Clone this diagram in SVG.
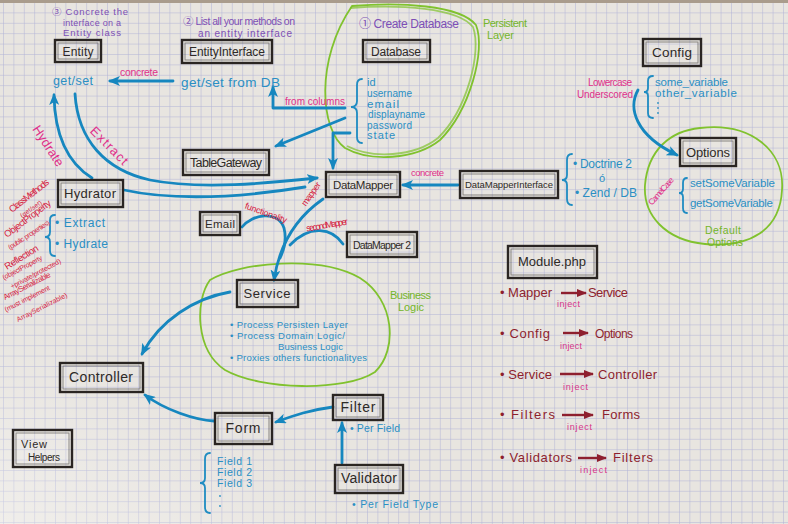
<svg xmlns="http://www.w3.org/2000/svg" width="788" height="524" viewBox="0 0 788 524">
  <defs>
    <pattern id="grid" width="10.4" height="10.4" patternUnits="userSpaceOnUse" x="3" y="2">
      <path d="M10.4 0 L0 0 L0 10.4" fill="none" stroke="#b0b2d6" stroke-width="1"/>
    </pattern>
    <linearGradient id="light" x1="0" y1="1" x2="0.6" y2="0.3">
      <stop offset="0" stop-color="#ffffff" stop-opacity="0.35"/>
      <stop offset="0.35" stop-color="#ffffff" stop-opacity="0"/>
    </linearGradient>
    <marker id="ah" viewBox="0 0 12 10" refX="10" refY="5" markerWidth="12" markerHeight="10" markerUnits="userSpaceOnUse" orient="auto">
      <path d="M0 0 L12 5 L0 10 L3 5 Z" fill="#1687bf"/>
    </marker>
    <marker id="ahr" viewBox="0 0 10 8" refX="9" refY="4" markerWidth="10" markerHeight="8" markerUnits="userSpaceOnUse" orient="auto">
      <path d="M0 0 L10 4 L0 8 Z" fill="#8e1f2e"/>
    </marker>
    <style>
      text { font-family: "Liberation Sans", "Noto Sans CJK JP", sans-serif; }
      .box { fill: none; stroke: #2a2522; stroke-width: 2.4; }
      .boxi { fill: none; stroke: #2a2522; stroke-width: 0.9; opacity: 0.55; }
      .lbl { fill: #2e2a27; text-anchor: middle; }
      .pur { fill: #7d4fb5; }
      .blu { fill: #2a8fc4; }
      .pnk { fill: #e0308a; }
      .red { fill: #d6203e; }
      .grn { fill: #74b52a; }
      .mod { fill: #8e1f2e; }
      .inj { fill: #d8358a; }
      .arr { fill: none; stroke: #1687bf; stroke-width: 2.8; stroke-linecap: round; stroke-linejoin: round; }
      .marr { fill: none; stroke: #8e1f2e; stroke-width: 2.4; }
      .loop { fill: none; stroke: #80c22e; stroke-width: 1.8; }
      .brace { fill: none; stroke: #1f8cc2; stroke-width: 1.8; stroke-linecap: round; }
    </style>
  </defs>

  <!-- paper -->
  <rect width="788" height="524" fill="#e8e5e0"/>
  <rect width="788" height="524" fill="url(#grid)"/>
  <rect width="788" height="524" fill="url(#light)"/>
  <rect width="788" height="3" fill="#a99c8c"/>

  <!-- layer outlines -->
  <g id="layers">
    <path class="loop" d="M352 6 C400 2 460 5 476 25 C486 50 470 110 440 140 C415 160 370 162 345 148 C320 130 315 60 352 6 Z"/>
    <path class="loop" d="M350 8 C400 4 458 8 473 27 C482 52 467 110 438 138 C414 157 372 159 347 146" opacity="0.7"/>
    <path class="loop" d="M210 280 C240 262 320 255 360 278 C395 300 398 350 375 372 C345 392 260 390 225 370 C195 350 195 300 210 280 Z"/>
    <path class="loop" d="M700 128 C750 122 785 150 782 190 C780 230 750 248 705 244 C665 240 643 215 645 185 C648 150 670 131 700 128 Z"/>
    <text class="grn" x="483" y="27" style="font-size:11px" textLength="44">Persistent</text>
    <text class="grn" x="487" y="39" style="font-size:11px" textLength="27">Layer</text>
    <text class="grn" x="390" y="299" style="font-size:11px" textLength="41">Business</text>
    <text class="grn" x="398" y="311" style="font-size:11px" textLength="26">Logic</text>
    <text class="grn" x="705" y="234" style="font-size:10.5px" textLength="36">Default</text>
    <text class="grn" x="707" y="246" style="font-size:10.5px" textLength="36">Options</text>
  </g>

  <!-- step notes -->
  <g id="steps">
    <text class="pur" x="52" y="15" style="font-size:9.5px" textLength="76">③ Concrete the</text>
    <text class="pur" x="63" y="25.5" style="font-size:9px" textLength="58">interface on a</text>
    <text class="pur" x="63" y="36" style="font-size:9.5px" textLength="58">Entity class</text>
    <text class="pur" x="183" y="25" style="font-size:10.5px" textLength="112">② List all your methods on</text>
    <text class="pur" x="198" y="37" style="font-size:10px" textLength="94">an entity interface</text>
    <text class="pur" x="359" y="28" style="font-size:12px" textLength="100">① Create Database</text>
  </g>

  <!-- connectors -->
  <g id="connectors">
    <path class="arr" d="M173 81 L110 81" marker-end="url(#ah)"/>
    <path class="arr" d="M345 108 L273 108 L273 87" marker-end="url(#ah)"/>
    <path class="arr" d="M345 118 L276 146" marker-end="url(#ah)"/>
    <path class="arr" d="M350 133 L333 133 L333 168" marker-end="url(#ah)"/>
    <path class="arr" d="M458 185 L403 185" marker-end="url(#ah)"/>
    <path class="arr" d="M638 90 C628 108 635 135 677 155" marker-end="url(#ah)"/>
    <path class="arr" d="M75 94 C78 140 105 170 150 180 C200 190 270 183 317 178" marker-end="url(#ah)"/>
    <path class="arr" d="M92 178 Q55 155 54 95" marker-end="url(#ah)"/>
    <path class="arr" d="M124 190 C160 198 220 201 305 187"/>
    <path class="arr" d="M242 227 C252 214 278 210 284 228 C287 240 284 250 280 258"/>
    <path class="arr" d="M323 199 C300 215 280 240 274 280" marker-end="url(#ah)"/>
    <path class="arr" d="M343 244 C332 228 310 224 290 245"/>
    <path class="arr" d="M230 292 C195 298 160 320 142 354" marker-end="url(#ah)"/>
    <path class="arr" d="M214 421 C195 420 165 410 145 395" marker-end="url(#ah)"/>
    <path class="arr" d="M333 407 C310 410 295 415 276 422" marker-end="url(#ah)"/>
    <path class="arr" d="M342 463 L342 423" marker-end="url(#ah)"/>
  </g>

  <!-- connector labels -->
  <g id="connector-labels">
    <text class="pnk" x="120" y="76" style="font-size:10.5px" textLength="38">concrete</text>
    <text class="pnk" x="285" y="105" style="font-size:10px" textLength="60">from columns</text>
    <text class="pnk" x="411" y="176" style="font-size:9.5px" textLength="33">concrete</text>
    <text class="pnk" x="588" y="86" style="font-size:10px" textLength="44">Lowercase</text>
    <text class="pnk" x="577" y="98" style="font-size:10px" textLength="56">Underscored</text>
    <text class="pnk" x="661" y="194" text-anchor="middle" style="font-size:8.5px" textLength="34" transform="rotate(-49 661 191)">CamelCase</text>
    <text class="pnk" x="48" y="150" text-anchor="middle" style="font-size:13px" textLength="46" transform="rotate(57 48 146)">Hydrate</text>
    <text class="pnk" x="109" y="150" text-anchor="middle" style="font-size:13px" textLength="48" transform="rotate(45 109 146)">Extract</text>
    <text class="red" x="266" y="216" text-anchor="middle" style="font-size:9px" textLength="44" transform="rotate(20 266 213)">functionality</text>
    <text class="red" x="311" y="197" text-anchor="middle" style="font-size:9px" textLength="27" transform="rotate(-55 311 194)">mapper</text>
    <text class="red" x="327" y="228" text-anchor="middle" style="font-size:9px" textLength="42" transform="rotate(-10 327 225)">secondMapper</text>
  </g>

  <!-- nodes -->
  <g id="entity">
    <rect class="box" x="55" y="40" width="46" height="22"/>
    <rect class="boxi" x="58" y="43" width="40" height="16"/>
    <text class="lbl" x="78" y="56" style="font-size:12px" textLength="31">Entity</text>
    <text class="blu" x="53" y="85" style="font-size:12.5px" textLength="40">get/set</text>
  </g>

  <g id="entity-interface">
    <rect class="box" x="182" y="40" width="90" height="23"/>
    <rect class="boxi" x="185" y="43" width="84" height="17"/>
    <text class="lbl" x="227" y="56" style="font-size:12px" textLength="76">EntityInterface</text>
    <text class="blu" x="181" y="87" style="font-size:13.5px" textLength="99">get/set from DB</text>
  </g>

  <g id="database">
    <rect class="box" x="363" y="40" width="67" height="22"/>
    <rect class="boxi" x="366" y="43" width="61" height="16"/>
    <text class="lbl" x="396" y="56" style="font-size:12px" textLength="50">Database</text>
    <path class="brace" d="M362 79 Q357 79 357 85 L357 101 Q357 107 351 107 Q357 107 357 113 L357 137 Q357 143 362 143"/>
    <text class="blu" x="367" y="86" style="font-size:11px">id</text>
    <text class="blu" x="367" y="97" style="font-size:10px" textLength="45">username</text>
    <text class="blu" x="367" y="107.5" style="font-size:11.5px" textLength="32">email</text>
    <text class="blu" x="368" y="118" style="font-size:10px" textLength="57">displayname</text>
    <text class="blu" x="367" y="128.5" style="font-size:10px" textLength="45">password</text>
    <text class="blu" x="367" y="139" style="font-size:11px" textLength="28">state</text>
  </g>

  <g id="config">
    <rect class="box" x="643" y="39" width="58" height="27"/>
    <rect class="boxi" x="646" y="42" width="52" height="21"/>
    <text class="lbl" x="672" y="57" style="font-size:13.5px" textLength="40">Config</text>
    <path class="brace" d="M653 76 Q648 76 648 81 L648 88 Q648 92 644 92 Q648 92 648 96 L648 113 Q648 118 653 118"/>
    <text class="blu" x="655" y="86" style="font-size:11.5px" textLength="73">some_variable</text>
    <text class="blu" x="655" y="97" style="font-size:11.5px" textLength="82">other_variable</text>
    <circle cx="658" cy="103" r="0.9" fill="#2a8fc4"/>
    <circle cx="658" cy="108" r="0.9" fill="#2a8fc4"/>
    <circle cx="658" cy="113" r="0.9" fill="#2a8fc4"/>
  </g>

  <g id="table-gateway">
    <rect class="box" x="183" y="150" width="86" height="25"/>
    <rect class="boxi" x="186" y="153" width="80" height="19"/>
    <text class="lbl" x="226" y="167" style="font-size:12.5px" textLength="72">TableGateway</text>
  </g>

  <g id="data-mapper">
    <rect class="box" x="326" y="172" width="74" height="25"/>
    <rect class="boxi" x="329" y="175" width="68" height="19"/>
    <text class="lbl" x="363" y="189" style="font-size:11.5px" textLength="60">DataMapper</text>
  </g>

  <g id="data-mapper-interface">
    <rect class="box" x="460" y="171" width="98" height="27"/>
    <rect class="boxi" x="463" y="174" width="92" height="21"/>
    <text class="lbl" x="509" y="188" style="font-size:9.5px" textLength="88">DataMapperInterface</text>
    <path class="brace" d="M572 154 Q567 154 567 160 L567 175 Q567 180 562 180 Q567 180 567 185 L567 199 Q567 205 572 205"/>
    <text class="blu" x="573" y="168" style="font-size:12px" textLength="59">• Doctrine 2</text>
    <text class="blu" x="599" y="182" style="font-size:11px">ó</text>
    <text class="blu" x="575" y="197" style="font-size:12px" textLength="62">• Zend / DB</text>
  </g>

  <g id="options">
    <rect class="box" x="680" y="138" width="56" height="28"/>
    <rect class="boxi" x="683" y="141" width="50" height="22"/>
    <text class="lbl" x="708" y="157" style="font-size:13px" textLength="44">Options</text>
    <path class="brace" d="M687 178 Q683 178 683 183 L683 189 Q683 193 679 193 Q683 193 683 197 L683 208 Q683 213 687 213"/>
    <text class="blu" x="690" y="187" style="font-size:11.5px" textLength="85">setSomeVariable</text>
    <text class="blu" x="690" y="207" style="font-size:11.5px" textLength="83">getSomeVariable</text>
  </g>

  <g id="hydrator">
    <rect class="box" x="58" y="180" width="65" height="27"/>
    <rect class="boxi" x="61" y="183" width="59" height="21"/>
    <text class="lbl" x="90" y="198" style="font-size:13px" textLength="52">Hydrator</text>
    <path class="brace" d="M55 215 Q50 215 50 220 L50 232 Q50 237 45 237 Q50 237 50 242 L50 251 Q50 256 55 256"/>
    <text class="blu" x="55" y="227" style="font-size:12px" textLength="50">• Extract</text>
    <text class="blu" x="55" y="248" style="font-size:12px" textLength="53">• Hydrate</text>
  </g>

  <g id="hydrator-strategies" class="red">
    <text x="12" y="213" style="font-size:9.5px" textLength="48" transform="rotate(-38 12 213)">ClassMethods</text>
    <text x="22" y="218" style="font-size:6.5px" textLength="25" transform="rotate(-35 22 218)">(get/set)</text>
    <text x="7" y="238" style="font-size:9.5px" textLength="56" transform="rotate(-37 7 238)">ObjectProperty</text>
    <text x="10" y="250" style="font-size:7px" textLength="48" transform="rotate(-33 10 250)">(public properties)</text>
    <text x="7" y="270" style="font-size:9.5px" textLength="38" transform="rotate(-32 7 270)">Reflection</text>
    <text x="4" y="280" style="font-size:7px" textLength="44" transform="rotate(-28 4 280)">(objectProperty</text>
    <text x="12" y="289" style="font-size:7px" textLength="56" transform="rotate(-28 12 289)">+private/protected)</text>
    <text x="5" y="300" style="font-size:8px" textLength="52" transform="rotate(-27 5 300)">ArraySerializable</text>
    <text x="6" y="312" style="font-size:7px" textLength="50" transform="rotate(-27 6 312)">(must implement</text>
    <text x="18" y="322" style="font-size:7px" textLength="56" transform="rotate(-27 18 322)">ArraySerializable)</text>
  </g>

  <g id="email">
    <rect class="box" x="200" y="212" width="40" height="23"/>
    <rect class="boxi" x="203" y="215" width="34" height="17"/>
    <text class="lbl" x="220" y="228" style="font-size:11.5px" textLength="30">Email</text>
  </g>

  <g id="data-mapper-2">
    <rect class="box" x="347" y="232" width="70" height="25"/>
    <rect class="boxi" x="350" y="235" width="64" height="19"/>
    <text class="lbl" x="382" y="249" style="font-size:10.5px" textLength="58">DataMapper 2</text>
  </g>

  <g id="service">
    <rect class="box" x="237" y="280" width="61" height="27"/>
    <rect class="boxi" x="240" y="283" width="55" height="21"/>
    <text class="lbl" x="267" y="298" style="font-size:13px" textLength="47">Service</text>
    <text class="blu" x="230" y="328" style="font-size:9.5px" textLength="118">• Process Persisten Layer</text>
    <text class="blu" x="230" y="339" style="font-size:9.5px" textLength="115">• Process Domain Logic/</text>
    <text class="blu" x="278" y="350" style="font-size:9.5px" textLength="65">Business Logic</text>
    <text class="blu" x="230" y="361" style="font-size:9.5px" textLength="137">• Proxies others functionalityes</text>
  </g>

  <g id="module-php">
    <rect class="box" x="508" y="246" width="89" height="32"/>
    <rect class="boxi" x="511" y="249" width="83" height="26"/>
    <text class="lbl" x="552" y="266" style="font-size:13px" textLength="68">Module.php</text>
  </g>

  <g id="module-injections" style="font-size:13px">
    <text class="mod" x="500" y="297" textLength="52">• Mapper</text>
    <path class="marr" d="M561 293 L586 293" marker-end="url(#ahr)"/>
    <text class="mod" x="588" y="297" textLength="40">Service</text>
    <text class="inj" x="557" y="307" style="font-size:9px" textLength="23">inject</text>

    <text class="mod" x="500" y="338" textLength="50">• Config</text>
    <path class="marr" d="M563 333 L588 333" marker-end="url(#ahr)"/>
    <text class="mod" x="595" y="338" style="font-size:12px" textLength="38">Options</text>
    <text class="inj" x="560" y="349" style="font-size:9px" textLength="22">inject</text>

    <text class="mod" x="500" y="379" textLength="52">• Service</text>
    <path class="marr" d="M560 374 L593 374" marker-end="url(#ahr)"/>
    <text class="mod" x="598" y="379" textLength="59">Controller</text>
    <text class="inj" x="563" y="390" style="font-size:9px" textLength="25">inject</text>

    <text class="mod" x="500" y="419" textLength="55">• Filters</text>
    <path class="marr" d="M562 415 L593 415" marker-end="url(#ahr)"/>
    <text class="mod" x="602" y="419" textLength="38">Forms</text>
    <text class="inj" x="567" y="430" style="font-size:9px" textLength="25">inject</text>

    <text class="mod" x="500" y="462" textLength="72">• Validators</text>
    <path class="marr" d="M578 458 L606 458" marker-end="url(#ahr)"/>
    <text class="mod" x="613" y="462" textLength="40">Filters</text>
    <text class="inj" x="580" y="473" style="font-size:9px" textLength="27">inject</text>
  </g>

  <g id="controller">
    <rect class="box" x="60" y="363" width="83" height="29"/>
    <rect class="boxi" x="63" y="366" width="77" height="23"/>
    <text class="lbl" x="101" y="382" style="font-size:14px" textLength="64">Controller</text>
  </g>

  <g id="view-helpers">
    <rect class="box" x="13" y="430" width="59" height="37"/>
    <rect class="boxi" x="16" y="433" width="53" height="31"/>
    <text class="lbl" x="34" y="448" style="font-size:11px" textLength="26">View</text>
    <text class="lbl" x="44" y="461" style="font-size:10px" textLength="32">Helpers</text>
  </g>

  <g id="form">
    <rect class="box" x="215" y="413" width="57" height="31"/>
    <rect class="boxi" x="218" y="416" width="51" height="25"/>
    <text class="lbl" x="243" y="433" style="font-size:14px" textLength="35">Form</text>
    <path class="brace" d="M210 453 Q205 453 205 459 L205 478 Q205 483 200 483 Q205 483 205 488 L205 507 Q205 513 210 513"/>
    <text class="blu" x="217" y="465" style="font-size:10.5px" textLength="35">Field 1</text>
    <text class="blu" x="217" y="476" style="font-size:10.5px" textLength="35">Field 2</text>
    <text class="blu" x="217" y="487" style="font-size:10.5px" textLength="35">Field 3</text>
    <circle cx="220" cy="496" r="0.9" fill="#2a8fc4"/>
    <circle cx="220" cy="506" r="0.9" fill="#2a8fc4"/>
  </g>

  <g id="filter">
    <rect class="box" x="333" y="395" width="50" height="25"/>
    <rect class="boxi" x="336" y="398" width="44" height="19"/>
    <text class="lbl" x="358" y="412" style="font-size:14px" textLength="35">Filter</text>
    <text class="blu" x="350" y="432" style="font-size:10.5px" textLength="50">• Per Field</text>
  </g>

  <g id="validator">
    <rect class="box" x="335" y="465" width="68" height="28"/>
    <rect class="boxi" x="338" y="468" width="62" height="22"/>
    <text class="lbl" x="369" y="483" style="font-size:14px" textLength="56">Validator</text>
    <text class="blu" x="352" y="508" style="font-size:10.5px" textLength="86">• Per Field Type</text>
  </g>
</svg>
